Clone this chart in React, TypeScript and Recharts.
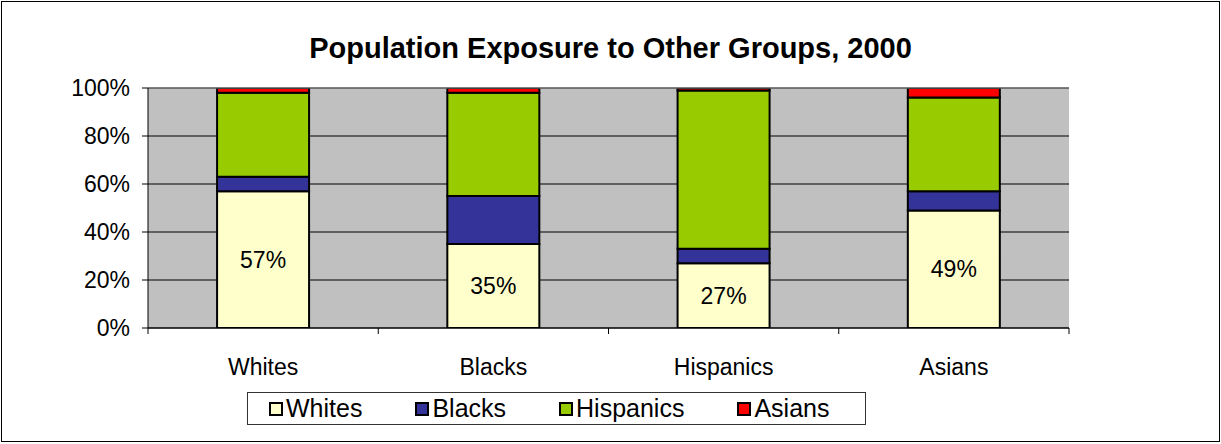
import React from 'react';
import { BarChart, Bar, XAxis, YAxis, CartesianGrid, Legend, LabelList, ReferenceLine } from 'recharts';

const categories = ['Whites', 'Blacks', 'Hispanics', 'Asians'];
const whites = [57, 35, 27, 49];
const blacks = [6, 20, 6, 8];
const hispanics = [35, 43, 66, 39];
const asians = [2, 2, 1, 4];
const yTicks = [0, 20, 40, 60, 80, 100];

const series = [
  { key: 'Whites', color: '#FFFFCC' },
  { key: 'Blacks', color: '#333399' },
  { key: 'Hispanics', color: '#99CC00' },
  { key: 'Asians', color: '#FF0000' },
];

const data = categories.map((name, i) => ({
  name,
  Whites: whites[i],
  Blacks: blacks[i],
  Hispanics: hispanics[i],
  Asians: asians[i],
}));

const FONT = 'Arial, "Liberation Sans", sans-serif';

// Excel puts the category ticks between the bars, not under them
const CategoryTick = (props: any) => {
  const { x, y, payload, index } = props;
  const half = payload.offset || 0;
  const axisY = y - 31;
  return (
    <g>
      <line x1={x - half} y1={axisY} x2={x - half} y2={axisY + 6} stroke="#000" />
      {index === categories.length - 1 && (
        <line x1={x + half} y1={axisY} x2={x + half} y2={axisY + 6} stroke="#000" />
      )}
      <text x={x} y={y} dy="0.71em" textAnchor="middle" fill="#000" fontSize={23} fontFamily={FONT}>
        {payload.value}
      </text>
    </g>
  );
};

const LegendBox = () => (
  <div
    style={{
      border: '1px solid #333',
      background: '#fff',
      height: 33,
      display: 'flex',
      alignItems: 'center',
      boxSizing: 'border-box',
      paddingLeft: 21,
      fontFamily: FONT,
      fontSize: 25,
      color: '#000',
    }}
  >
    {series.map((s, i) => (
      <div key={s.key} style={{ display: 'flex', alignItems: 'center', marginRight: i < 3 ? 53 : 0 }}>
        <span
          style={{
            width: 10,
            height: 10,
            background: s.color,
            border: '2px solid #000',
            marginRight: 3,
            display: 'inline-block',
          }}
        />
        <span>{s.key}</span>
      </div>
    ))}
  </div>
);

export default function App() {
  return (
    <div style={{ position: 'absolute', left: 0, top: 0, width: 1221, height: 444, background: '#fff' }}>
      <div
        style={{
          position: 'absolute',
          left: 1,
          top: 1,
          width: 1217,
          height: 439,
          border: '1px solid #000',
        }}
      />
      <div
        style={{
          position: 'absolute',
          left: 0,
          top: 32,
          width: 1221,
          textAlign: 'center',
          fontFamily: FONT,
          fontWeight: 'bold',
          fontSize: 29,
          lineHeight: '33px',
          color: '#000',
        }}
      >
        Population Exposure to Other Groups, 2000
      </div>
      <BarChart
        width={1221}
        height={444}
        data={data}
        margin={{ top: 88, right: 152, left: 0, bottom: 86 }}
        barCategoryGap="30%"
        style={{ position: 'absolute', left: 0, top: 0 }}
      >
        <CartesianGrid fill="#C0C0C0" stroke="#000" vertical={false} />
        <ReferenceLine y={100} stroke="#808080" />
        <XAxis
          dataKey="name"
          height={30}
          axisLine={{ stroke: '#000' }}
          tickLine={false}
          tickSize={6}
          tickMargin={25}
          tick={<CategoryTick />}
          interval={0}
        />
        <YAxis
          width={148}
          domain={[0, 100]}
          ticks={yTicks}
          tickFormatter={(v: number) => `${v}%`}
          axisLine={{ stroke: '#000' }}
          tickLine={{ stroke: '#000' }}
          tickSize={6}
          tickMargin={12}
          tick={{ fill: '#000', fontSize: 23, fontFamily: FONT }}
          allowDataOverflow
        />
        {series.map((s) => (
          <Bar
            key={s.key}
            dataKey={s.key}
            stackId="a"
            fill={s.color}
            stroke="#000"
            strokeWidth={2}
            isAnimationActive={false}
          >
            {s.key === 'Whites' && (
              <LabelList
                dataKey="Whites"
                position="center"
                formatter={(v: any) => `${v}%`}
                fill="#000"
                fontSize={23}
                fontFamily={FONT}
              />
            )}
          </Bar>
        ))}
        <Legend
          layout="vertical"
          verticalAlign="middle"
          align="center"
          content={<LegendBox />}
          wrapperStyle={{ left: 247, top: 392, width: 619, height: 33 }}
        />
      </BarChart>
    </div>
  );
}
